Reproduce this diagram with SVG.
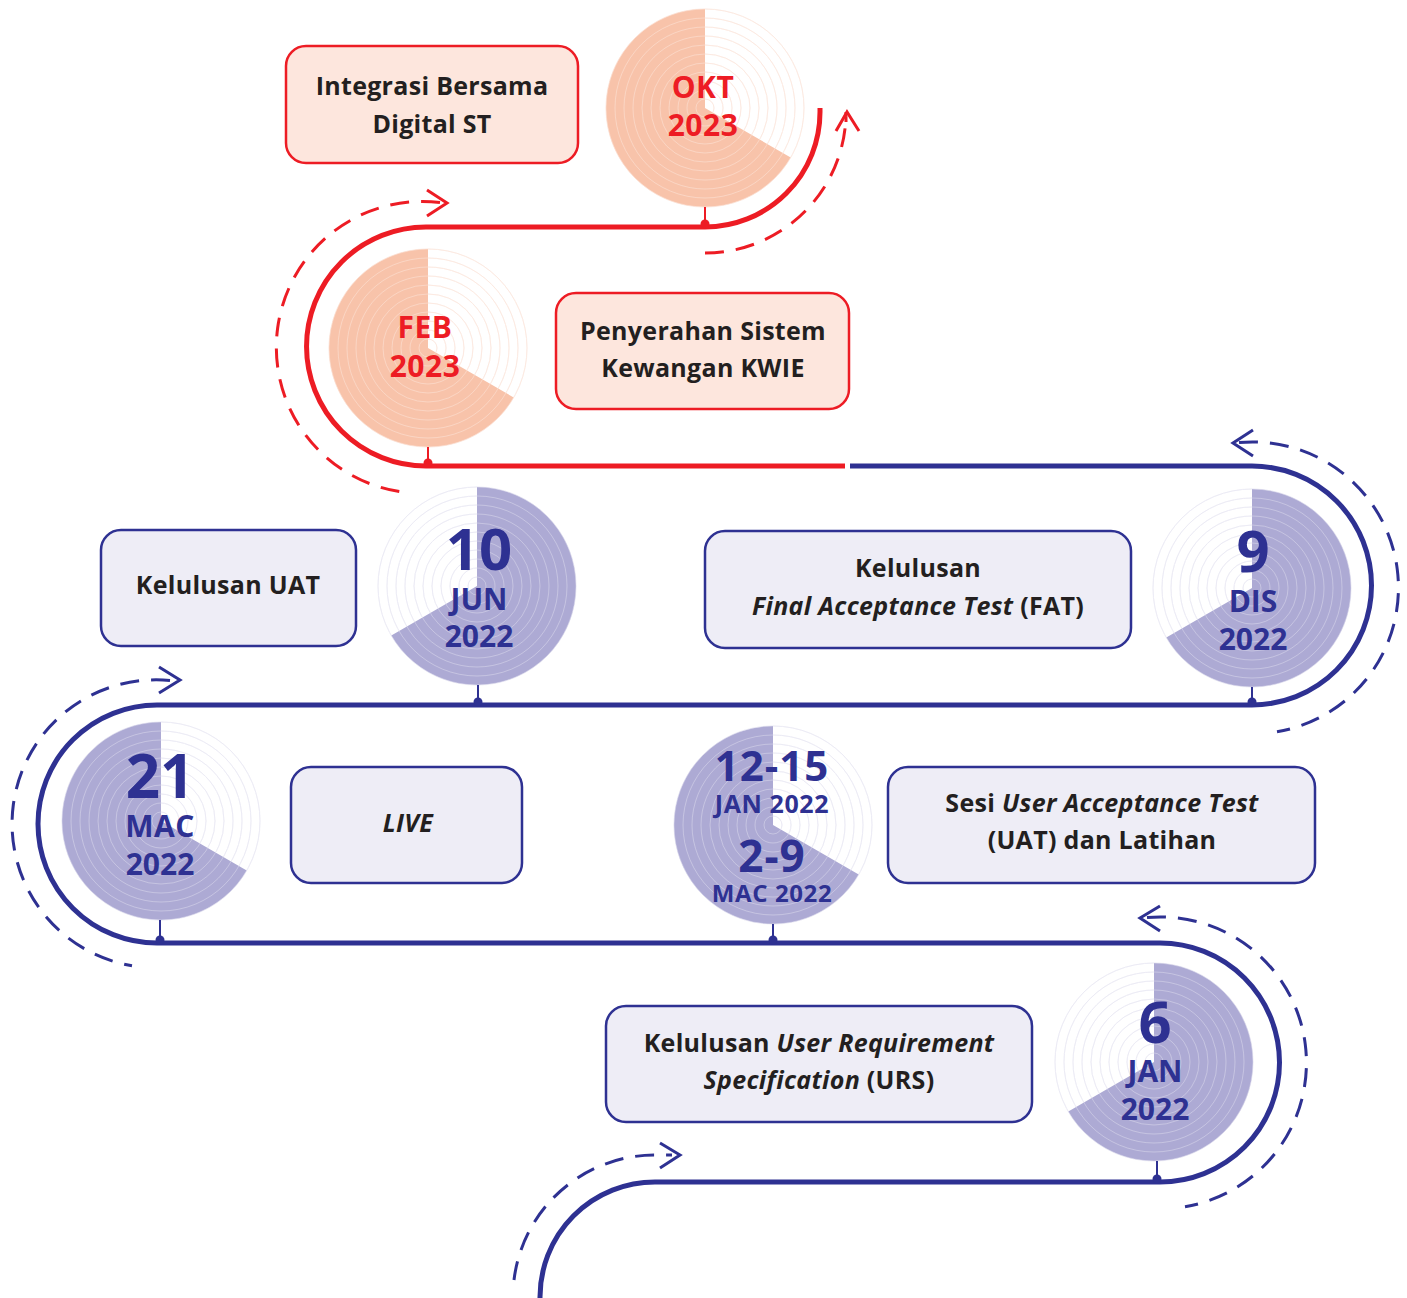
<svg xmlns="http://www.w3.org/2000/svg" width="1407" height="1298" viewBox="0 0 1407 1298">
<defs>
<style>
.track-r{fill:none;stroke:#ED1C24;stroke-width:5}
.track-b{fill:none;stroke:#2E3192;stroke-width:5}
.dash-r{fill:none;stroke:#ED1C24;stroke-width:3;stroke-dasharray:19 12}
.dash-b{fill:none;stroke:#2E3192;stroke-width:3;stroke-dasharray:19 12}
.chev-r{fill:none;stroke:#ED1C24;stroke-width:3}
.chev-b{fill:none;stroke:#2E3192;stroke-width:3}
.box-r{fill:#FDE6DD;stroke:#ED1C24;stroke-width:2.5}
.box-b{fill:#EEEDF6;stroke:#2E3192;stroke-width:2.5}
.lbl{font-family:"Open Sans","Noto Sans",sans-serif;font-weight:700;font-size:25px;letter-spacing:0.3px;fill:#231F20;text-anchor:middle}
.it{font-style:italic}
.pr{font-family:"Open Sans","Noto Sans",sans-serif;font-weight:700;fill:#ED1C24;text-anchor:middle}
.pb{font-family:"Open Sans","Noto Sans",sans-serif;font-weight:700;fill:#2E3192;text-anchor:middle}
.fill-r{fill:#F8C3AA}
.fill-b{fill:#ADAAD4}
.stem-r{stroke:#ED1C24;stroke-width:2}
.stem-b{stroke:#2E3192;stroke-width:2}
</style>
<g id="rings">
<circle r="9"/><circle r="18"/><circle r="27"/><circle r="36"/><circle r="45"/><circle r="54"/><circle r="63"/><circle r="72"/><circle r="81"/><circle r="90"/><circle r="99"/>
</g>
<path id="sec-a" d="M0 0 L85.7 49.5 A99 99 0 1 1 0 -99 Z"/>
<path id="sec-b" d="M0 0 L0 -99 A99 99 0 1 1 -85.7 49.5 Z"/>
</defs>
<rect width="1407" height="1298" fill="#FFFFFF"/>

<g id="connectors">
<path class="track-r" d="M845 466 L426 466 A119.5 119.5 0 0 1 426 227 L705 227 A115 115 0 0 0 820 112 L820 108"/>
<path class="track-b" d="M540 1298 A115 115 0 0 1 655 1182 L1160 1182 A119.5 119.5 0 0 0 1160 943 L157 943 A119 119 0 0 1 157 705 L1252 705 A119.5 119.5 0 0 0 1252 466 L850 466"/>
<path class="dash-r" d="M705 253 A141 141 0 0 0 846 112 L846 122"/>
<path class="chev-r" d="M836 131 L847 112 L859 131"/>
<path class="dash-r" d="M440 202.5 A146 146 0 0 0 400.6 491.8"/>
<path class="chev-r" d="M427 190 L447 203 L427 216"/>
<path class="dash-b" d="M1239 442.5 A146 146 0 0 1 1277 731.8"/>
<path class="chev-b" d="M1253 430 L1233 443 L1253 456"/>
<path class="dash-b" d="M170 680.5 A144 144 0 0 0 132 965.8"/>
<path class="chev-b" d="M159 667 L180 680 L159 693"/>
<path class="dash-b" d="M1147 917.5 A146 146 0 0 1 1185 1206.8"/>
<path class="chev-b" d="M1160 906 L1140 918 L1160 931"/>
<path class="dash-b" d="M514 1280 A142 142 0 0 1 655 1155 L672 1155"/>
<path class="chev-b" d="M660 1143 L680 1155 L660 1168"/>
</g>

<g id="pie-okt">
<use href="#rings" transform="translate(705 108)" fill="none" stroke="#FBE1D5" stroke-width="1"/>
<use href="#sec-a" transform="translate(705 108)" class="fill-r"/>
<use href="#rings" transform="translate(705 108)" fill="none" stroke="#FFFFFF" stroke-opacity="0.3" stroke-width="1"/>
<line class="stem-r" x1="705" y1="207" x2="705" y2="226"/>
<circle cx="705" cy="224" r="4.5" fill="#ED1C24"/>
<text class="pr" x="703" y="98" font-size="30" letter-spacing="0.5">OKT</text>
<text class="pr" x="703" y="136" font-size="30" letter-spacing="0.5">2023</text>
</g>

<g id="pie-feb">
<use href="#rings" transform="translate(428 348)" fill="none" stroke="#FBE1D5" stroke-width="1"/>
<use href="#sec-a" transform="translate(428 348)" class="fill-r"/>
<use href="#rings" transform="translate(428 348)" fill="none" stroke="#FFFFFF" stroke-opacity="0.3" stroke-width="1"/>
<line class="stem-r" x1="428" y1="447" x2="428" y2="465"/>
<circle cx="428" cy="463" r="4.5" fill="#ED1C24"/>
<text class="pr" x="425" y="338" font-size="30" letter-spacing="0.5">FEB</text>
<text class="pr" x="425" y="377" font-size="30" letter-spacing="0.5">2023</text>
</g>

<g id="pie-jun">
<use href="#rings" transform="translate(477 586)" fill="none" stroke="#E4E3F1" stroke-width="1"/>
<use href="#sec-b" transform="translate(477 586)" class="fill-b"/>
<use href="#rings" transform="translate(477 586)" fill="none" stroke="#FFFFFF" stroke-opacity="0.3" stroke-width="1"/>
<line class="stem-b" x1="478" y1="685" x2="478" y2="704"/>
<circle cx="478" cy="702" r="4.5" fill="#2E3192"/>
<text class="pb" x="479" y="570" font-size="58">10</text>
<text class="pb" x="479" y="610" font-size="30">JUN</text>
<text class="pb" x="479" y="647" font-size="30">2022</text>
</g>

<g id="pie-dis">
<use href="#rings" transform="translate(1252 588)" fill="none" stroke="#E4E3F1" stroke-width="1"/>
<use href="#sec-b" transform="translate(1252 588)" class="fill-b"/>
<use href="#rings" transform="translate(1252 588)" fill="none" stroke="#FFFFFF" stroke-opacity="0.3" stroke-width="1"/>
<line class="stem-b" x1="1252" y1="687" x2="1252" y2="704"/>
<circle cx="1252" cy="702" r="4.5" fill="#2E3192"/>
<text class="pb" x="1253" y="572" font-size="58">9</text>
<text class="pb" x="1253" y="612" font-size="30">DIS</text>
<text class="pb" x="1253" y="650" font-size="30">2022</text>
</g>

<g id="pie-mac">
<use href="#rings" transform="translate(161 821)" fill="none" stroke="#E4E3F1" stroke-width="1"/>
<use href="#sec-a" transform="translate(161 821)" class="fill-b"/>
<use href="#rings" transform="translate(161 821)" fill="none" stroke="#FFFFFF" stroke-opacity="0.3" stroke-width="1"/>
<line class="stem-b" x1="160" y1="920" x2="160" y2="942"/>
<circle cx="160" cy="940" r="4.5" fill="#2E3192"/>
<text class="pb" x="160" y="798" font-size="60">21</text>
<text class="pb" x="160" y="837" font-size="30" letter-spacing="0.5">MAC</text>
<text class="pb" x="160" y="875" font-size="30">2022</text>
</g>

<g id="pie-uat">
<use href="#rings" transform="translate(773 825)" fill="none" stroke="#E4E3F1" stroke-width="1"/>
<use href="#sec-a" transform="translate(773 825)" class="fill-b"/>
<use href="#rings" transform="translate(773 825)" fill="none" stroke="#FFFFFF" stroke-opacity="0.3" stroke-width="1"/>
<line class="stem-b" x1="773" y1="924" x2="773" y2="942"/>
<circle cx="773" cy="940" r="4.5" fill="#2E3192"/>
<text class="pb" x="772" y="781" font-size="42" letter-spacing="1">12-15</text>
<text class="pb" x="772" y="813" font-size="25" letter-spacing="0.6">JAN 2022</text>
<text class="pb" x="772" y="872" font-size="44" letter-spacing="1">2-9</text>
<text class="pb" x="772" y="902" font-size="24" letter-spacing="0.6">MAC 2022</text>
</g>

<g id="pie-jan">
<use href="#rings" transform="translate(1154 1062)" fill="none" stroke="#E4E3F1" stroke-width="1"/>
<use href="#sec-b" transform="translate(1154 1062)" class="fill-b"/>
<use href="#rings" transform="translate(1154 1062)" fill="none" stroke="#FFFFFF" stroke-opacity="0.3" stroke-width="1"/>
<line class="stem-b" x1="1157" y1="1161" x2="1157" y2="1181"/>
<circle cx="1157" cy="1179" r="4.5" fill="#2E3192"/>
<text class="pb" x="1155" y="1043" font-size="58">6</text>
<text class="pb" x="1155" y="1082" font-size="30">JAN</text>
<text class="pb" x="1155" y="1120" font-size="30">2022</text>
</g>

<g id="box-integrasi">
<rect class="box-r" x="286" y="46" width="292" height="117" rx="20"/>
<text class="lbl" x="432" y="95">Integrasi Bersama</text>
<text class="lbl" x="432" y="133">Digital ST</text>
</g>

<g id="box-penyerahan">
<rect class="box-r" x="556" y="293" width="293" height="116" rx="20"/>
<text class="lbl" x="703" y="340">Penyerahan Sistem</text>
<text class="lbl" x="703" y="377">Kewangan KWIE</text>
</g>

<g id="box-kelulusan-uat">
<rect class="box-b" x="101" y="530" width="255" height="116" rx="20"/>
<text class="lbl" x="228" y="594">Kelulusan UAT</text>
</g>

<g id="box-fat">
<rect class="box-b" x="705" y="531" width="426" height="117" rx="20"/>
<text class="lbl" x="918" y="577">Kelulusan</text>
<text class="lbl" x="918" y="615"><tspan class="it">Final Acceptance Test</tspan> (FAT)</text>
</g>

<g id="box-live">
<rect class="box-b" x="291" y="767" width="231" height="116" rx="20"/>
<text class="lbl it" x="408" y="832">LIVE</text>
</g>

<g id="box-sesi-uat">
<rect class="box-b" x="888" y="767" width="427" height="116" rx="20"/>
<text class="lbl" x="1102" y="812">Sesi <tspan class="it">User Acceptance Test</tspan></text>
<text class="lbl" x="1102" y="849">(UAT) dan Latihan</text>
</g>

<g id="box-urs">
<rect class="box-b" x="606" y="1006" width="426" height="116" rx="20"/>
<text class="lbl" x="819" y="1052">Kelulusan <tspan class="it">User Requirement</tspan></text>
<text class="lbl" x="819" y="1089"><tspan class="it">Specification</tspan> (URS)</text>
</g>
</svg>
